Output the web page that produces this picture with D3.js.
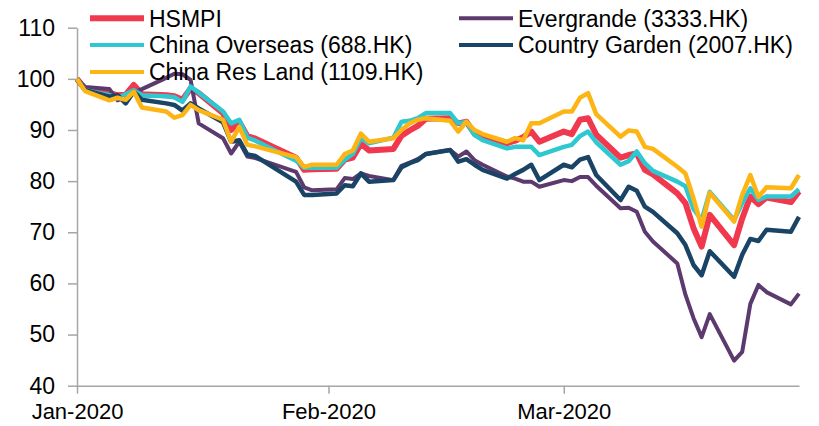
<!DOCTYPE html>
<html>
<head>
<meta charset="utf-8">
<script src="https://cdn.jsdelivr.net/npm/d3@7"></script>
<style>
  body { margin: 0; background: #fff; }
  text { font-family: Arial, "Liberation Sans", sans-serif; fill: #000; }
  .axis path, .axis line { stroke: #a6a6a6; stroke-width: 1.5; }
</style>
</head>
<body>
<svg id="chart" width="819" height="426"></svg>
<script>
/////////////////////////////////////////////////////////////////////////////
// data (rebased to 100 on first trading day)
var dates = ["2020-01-02","2020-01-03","2020-01-06","2020-01-07","2020-01-08","2020-01-09","2020-01-10",
             "2020-01-13","2020-01-14","2020-01-15","2020-01-16","2020-01-17","2020-01-20","2020-01-21",
             "2020-01-22","2020-01-23","2020-01-24","2020-01-29","2020-01-30","2020-01-31",
             "2020-02-03","2020-02-04","2020-02-05","2020-02-06","2020-02-07","2020-02-10","2020-02-11",
             "2020-02-12","2020-02-13","2020-02-14","2020-02-17","2020-02-18","2020-02-19","2020-02-20",
             "2020-02-21","2020-02-24","2020-02-25","2020-02-26","2020-02-27","2020-02-28",
             "2020-03-02","2020-03-03","2020-03-04","2020-03-05","2020-03-06","2020-03-09","2020-03-10",
             "2020-03-11","2020-03-12","2020-03-13","2020-03-16","2020-03-17","2020-03-18","2020-03-19",
             "2020-03-20","2020-03-23","2020-03-24","2020-03-25","2020-03-26","2020-03-27","2020-03-30","2020-03-31"];

var hsmpi = [100,98.0,97.2,96.8,96.9,98.8,97.0,96.8,96.6,95.9,98.1,97.2,93.3,90.0,91.6,88.8,88.3,84.6,82.2,82.3,
             82.4,84.2,84.6,87.3,86.0,86.3,88.9,89.9,90.8,92.2,92.3,91.3,91.6,89.3,88.4,87.4,87.9,88.6,89.7,87.7,
             89.7,89.2,92.0,92.3,89.1,84.6,85.1,85.4,82.2,81.3,77.6,75.7,70.8,67.2,73.4,67.5,72.7,77.0,75.5,76.8,75.9,78.0];

var evergrande = [100,98.4,98.0,95.8,96.5,97.3,98.0,100.2,101.0,100.9,99.8,91.3,88.4,85.4,87.7,84.8,84.5,81.8,78.8,78.2,
                  78.4,80.6,80.4,81.5,81.0,80.2,83.0,83.6,84.3,85.3,86.1,84.8,85.8,84.1,83.2,80.9,80.5,79.9,79.9,78.9,
                  80.2,80.0,80.8,80.8,79.1,74.7,74.8,74.0,70.1,68.2,63.9,57.8,53.2,49.5,54.0,44.9,46.6,56.0,59.7,58.3,55.9,58.0];

var chinaOverseas = [100,97.8,96.8,96.2,97.0,97.8,96.8,96.6,96.4,95.5,98.5,97.3,93.6,91.3,92.0,88.5,87.9,84.0,82.6,82.6,
                     82.6,84.2,85.3,88.4,87.4,88.5,91.6,91.8,92.3,93.3,93.3,91.3,91.6,89.0,88.0,86.4,86.7,86.7,86.7,85.1,
                     86.7,87.1,88.8,89.7,87.6,83.2,83.9,85.8,83.5,82.0,79.9,79.0,74.5,72.4,77.9,72.4,75.7,78.6,76.3,77.0,77.0,78.4];

var countryGarden = [100,97.8,96.5,96.8,95.2,97.5,95.9,95.2,94.9,93.8,95.2,94.2,91.5,87.7,88.0,85.2,84.9,79.9,77.3,77.3,
                     77.6,79.2,79.0,81.5,79.9,80.2,82.7,83.5,84.1,85.3,86.1,83.8,84.3,83.2,82.2,80.5,81.4,82.2,83.2,80.2,
                     83.2,82.7,84.2,84.7,81.2,76.3,78.9,78.1,75.0,74.0,69.8,67.5,63.6,61.6,66.3,61.3,65.6,68.7,68.3,70.5,70.1,73.0];

var crLand = [100,97.6,95.8,96.3,95.9,97.5,94.4,93.6,92.4,92.9,94.9,93.9,92.0,87.7,90.6,87.1,86.8,84.7,82.8,83.2,
              83.2,85.3,86.0,89.3,87.7,88.4,90.0,91.3,92.0,92.3,91.8,89.7,91.6,90.0,89.2,87.7,88.4,88.0,91.3,91.3,
              93.6,93.6,96.3,97.2,93.1,88.7,89.9,89.7,86.7,86.3,82.8,81.5,76.6,71.1,77.7,72.1,77.3,81.2,76.9,78.8,78.6,81.2];

var seriesNames = ["HSMPI", "Evergrande (3333.HK)", "China Overseas (688.HK)",
                   "Country Garden (2007.HK)", "China Res Land (1109.HK)"];
var yTicks = [40, 50, 60, 70, 80, 90, 100, 110];
var xTicks = ["2020-01-02", "2020-02-02", "2020-03-02"];

/////////////////////////////////////////////////////////////////////////////
var parse = d3.timeParse("%Y-%m-%d");
var svg = d3.select("#chart");

var series = [
  {name: seriesNames[0], values: hsmpi,         color: "#f0384f", width: 6},
  {name: seriesNames[1], values: evergrande,    color: "#5c3a6e", width: 4},
  {name: seriesNames[2], values: chinaOverseas, color: "#2ec8d0", width: 4.5},
  {name: seriesNames[3], values: countryGarden, color: "#1a4466", width: 4.5},
  {name: seriesNames[4], values: crLand,        color: "#fdb515", width: 4.5}
];

var xScale = d3.scaleTime()
               .domain([parse("2020-01-02"), parse("2020-03-31")])
               .range([77, 799]);
var yScale = d3.scaleLinear()
               .domain([40, 110])
               .range([385.7, 27.7]);

// axes
var yAxis = svg.append("g")
    .attr("class", "axis")
    .attr("transform", "translate(77,0)")
    .call(d3.axisLeft(yScale).tickValues(yTicks).tickSize(9).tickPadding(13).tickSizeOuter(0));
yAxis.selectAll("text").style("font-size", "23px").style("font-family", "Arial, 'Liberation Sans', sans-serif");

var xAxis = svg.append("g")
    .attr("class", "axis")
    .attr("transform", "translate(0,385.7)")
    .call(d3.axisBottom(xScale)
            .tickValues(xTicks.map(parse))
            .tickFormat(d3.timeFormat("%b-%Y"))
            .tickSize(8).tickPadding(10).tickSizeOuter(0));
xAxis.selectAll("text").style("font-size", "22px").style("font-family", "Arial, 'Liberation Sans', sans-serif");

// lines
var line = d3.line()
    .x(function(d, i) { return xScale(parse(dates[i])); })
    .y(function(d) { return yScale(d); });

svg.selectAll("series_lines")
    .data(series)
    .enter()
    .append("path")
    .attr("d", function(d) { return line(d.values); })
    .style("fill", "none")
    .style("stroke", function(d) { return d.color; })
    .style("stroke-width", function(d) { return d.width; })
    .style("stroke-linejoin", "round");

// legend, two columns
var legend_x = [90, 459];
var legend_y = 18.3;
var legend_row = 26.8;
var legend = svg.selectAll("legend_items")
    .data(series)
    .enter()
    .append("g")
    .attr("transform", function(d, i) {
      return "translate(" + legend_x[i % 2] + "," + (legend_y + Math.floor(i / 2) * legend_row) + ")";
    });
legend.append("line")
    .attr("x1", 0)
    .attr("x2", 54)
    .attr("y1", 0)
    .attr("y2", 0)
    .style("stroke", function(d) { return d.color; })
    .style("stroke-width", function(d) { return d.width == 6 ? 6 : 4; });
legend.append("text")
    .attr("x", 59)
    .attr("y", 8.3)
    .text(function(d) { return d.name; })
    .style("font-size", "23px");
</script>
</body>
</html>
